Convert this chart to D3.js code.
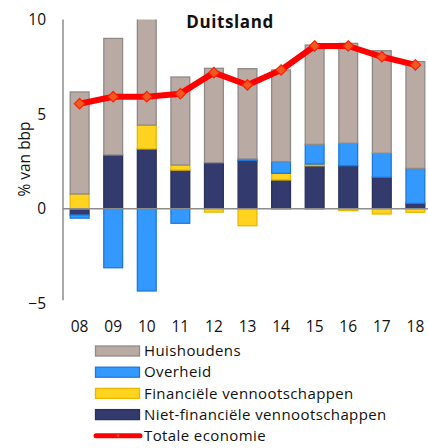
<!DOCTYPE html>
<html><head><meta charset="utf-8">
<script src="https://cdn.jsdelivr.net/npm/d3@7"></script>
<style>body{margin:0;background:#fff}svg{display:block}text{font-family:"Open Sans","DejaVu Sans",sans-serif}</style>
</head><body>
<svg id="c" width="428" height="448"></svg>
<script>
const years = ["08","09","10","11","12","13","14","15","16","17","18"];
const nietFin = [-0.33, 2.84, 3.16, 2.04, 2.43, 2.55, 1.52, 2.27, 2.27, 1.66, 0.28];
const financiele = [0.78, 0.0, 1.26, 0.27, -0.18, -0.9, 0.35, 0.09, -0.1, -0.28, -0.19];
const overheid = [-0.17, -3.12, -4.35, -0.77, 0.0, 0.08, 0.62, 1.04, 1.19, 1.27, 1.85];
const huishoudens = [5.39, 6.16, 5.85, 4.65, 4.99, 4.77, 4.84, 5.25, 5.28, 5.42, 5.64];
const totaal = [5.55, 5.92, 5.92, 6.08, 7.19, 6.54, 7.33, 8.6, 8.6, 8.03, 7.6];
const yTicks = [-5, 0, 5, 10];
const seriesNames = ["Huishoudens","Overheid","Financiële vennootschappen","Niet-financiële vennootschappen"];
const totalName = "Totale economie";

const fills = {nf:"#323a6e", fin:"#ffd320", ov:"#3399ff", hh:"#b9aba3"};
const strokes = {nf:"#2b3158", fin:"#e8b800", ov:"#1f78d8", hh:"#8e8a88"};

const svg = d3.select("#c");
const x = d3.scaleBand().domain(years).range([63, 432]).paddingInner(0.41).paddingOuter(0.2);
const y = d3.scaleLinear().domain([-5, 10]).range([303.3, 19.5]);

const rows = years.map((yr,i)=>({yr, nf:nietFin[i], fin:financiele[i], ov:overheid[i], hh:huishoudens[i]}));
const keys = ["nf","fin","ov","hh"];
const stacked = d3.stack().keys(keys).offset(d3.stackOffsetDiverging)(rows);

svg.append("clipPath").attr("id","clip").append("rect")
  .attr("x",60).attr("y",y(10)).attr("width",370).attr("height",y(-5)-y(10));

const g = svg.append("g").attr("clip-path","url(#clip)");
stacked.forEach(s=>{
  g.append("g").selectAll("rect").data(s.filter(d=>Math.abs(d[1]-d[0])>0.001)).join("rect")
    .attr("x",d=>x(d.data.yr)+0.5)
    .attr("width",x.bandwidth()-1)
    .attr("y",d=>y(Math.max(d[0],d[1])))
    .attr("height",d=>Math.abs(y(d[0])-y(d[1])))
    .attr("fill",fills[s.key]).attr("stroke",strokes[s.key]).attr("stroke-width",1.3);
});

// axes
const yAxis = d3.axisLeft(y).tickValues(yTicks).tickSize(0).tickPadding(17);
const ya = svg.append("g").attr("transform","translate(63,0)").call(yAxis);
ya.select(".domain").attr("stroke","#8c8c8c").attr("stroke-width",1.5).attr("d",`M0,${y(10)}V${y(-5)-3}`);
ya.selectAll("text").attr("font-size",15.5).attr("fill","#111");

const xAxis = d3.axisBottom(x).tickSize(0).tickPadding(0);
const xa = svg.append("g").attr("transform",`translate(0,${y(-5)+24})`).call(xAxis);
xa.select(".domain").remove();
xa.selectAll("text").attr("font-size",15.5).attr("fill","#111").attr("dy","0.32em").attr("y",0);

svg.append("line").attr("x1",63).attr("x2",428).attr("y1",y(0)).attr("y2",y(0))
  .attr("stroke","#8c8c8c").attr("stroke-width",1.5);

// line
const line = d3.line().x((d,i)=>x(years[i])+x.bandwidth()/2).y(d=>y(d));
svg.append("path").datum(totaal).attr("d",line).attr("fill","none")
  .attr("stroke","#ff0000").attr("stroke-width",6).attr("stroke-linejoin","round");
svg.append("g").selectAll("path").data(totaal).join("path")
  .attr("d",d3.symbol(d3.symbolDiamond2, 70)())
  .attr("transform",(d,i)=>`translate(${x(years[i])+x.bandwidth()/2},${y(d)})`)
  .attr("fill","#f05a22").attr("stroke","#ff2000").attr("stroke-width",1.2);

// title
svg.append("text").attr("x",230).attr("y",28).attr("text-anchor","middle")
  .attr("font-size",17).attr("letter-spacing",0.6).attr("font-weight","bold").attr("fill","#111").text("Duitsland");

// y label
svg.append("text").attr("transform","translate(25,159) rotate(-90)").attr("text-anchor","middle")
  .attr("dy","0.35em").attr("font-size",15.5).attr("fill","#111").text("% van bbp");

// legend
const legKeys = ["hh","ov","fin","nf"];
const lg = svg.append("g");
seriesNames.forEach((n,i)=>{
  const yy = 351 + i*21.2;
  lg.append("rect").attr("x",95.5).attr("y",yy-5).attr("width",44).attr("height",10)
    .attr("fill",fills[legKeys[i]]).attr("stroke",strokes[legKeys[i]]).attr("stroke-width",1.3);
  lg.append("text").attr("x",144).attr("y",yy).attr("dy","0.35em").attr("font-size",15)
    .attr("letter-spacing",0.4).attr("fill","#111").text(n);
});
const ly = 351 + 4*21.2;
lg.append("line").attr("x1",96).attr("x2",140).attr("y1",ly).attr("y2",ly)
  .attr("stroke","#ff0000").attr("stroke-width",5).attr("stroke-linecap","round");
lg.append("path").attr("d",d3.symbol(d3.symbolDiamond2, 8)()).attr("transform",`translate(118,${ly})`)
  .attr("fill","#f05a22");
lg.append("text").attr("x",144).attr("y",ly).attr("dy","0.35em").attr("font-size",15)
  .attr("letter-spacing",0.4).attr("fill","#111").text(totalName);
</script>
</body></html>
